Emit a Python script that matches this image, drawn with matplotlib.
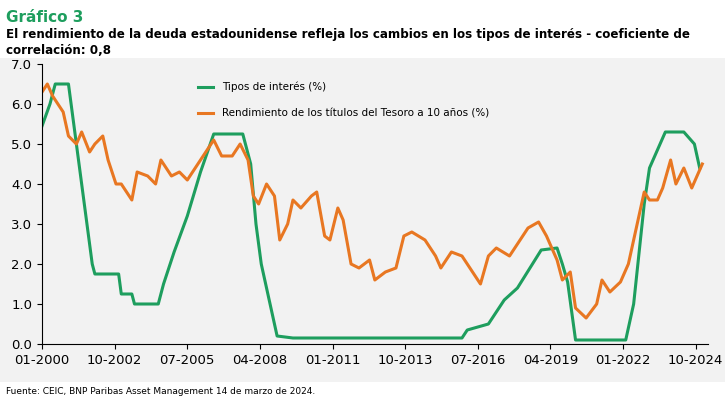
import matplotlib.pyplot as plt
import numpy as np

# Fed funds rate (green), year fraction -> %
rates = np.array([
    [2000.0, 5.45], [2000.3, 6.0], [2000.5, 6.5], [2001.0, 6.5], [2001.2, 5.5], [2001.5, 4.0],
    [2001.9, 2.0], [2002.0, 1.75], [2002.9, 1.75], [2003.0, 1.25], [2003.4, 1.25], [2003.5, 1.0],
    [2004.4, 1.0], [2004.6, 1.5], [2005.0, 2.3], [2005.5, 3.2], [2006.0, 4.3], [2006.5, 5.25],
    [2007.6, 5.25], [2007.9, 4.5], [2008.1, 3.0], [2008.3, 2.0], [2008.9, 0.2], [2009.5, 0.15],
    [2015.9, 0.15], [2016.1, 0.35], [2016.9, 0.5], [2017.5, 1.1], [2018.0, 1.4], [2018.9, 2.35],
    [2019.5, 2.4], [2019.7, 2.0], [2019.9, 1.55], [2020.2, 0.1], [2022.1, 0.1], [2022.4, 1.0],
    [2022.8, 3.5], [2023.0, 4.4], [2023.6, 5.3], [2024.3, 5.3], [2024.7, 5.0], [2024.9, 4.4],
])

# 10-year Treasury yield (orange)
yields = np.array([
    [2000.0, 6.3], [2000.2, 6.5], [2000.4, 6.2], [2000.6, 6.0], [2000.8, 5.8], [2001.0, 5.2],
    [2001.3, 5.0], [2001.5, 5.3], [2001.8, 4.8], [2002.0, 5.0], [2002.3, 5.2], [2002.5, 4.6],
    [2002.8, 4.0], [2003.0, 4.0], [2003.4, 3.6], [2003.6, 4.3], [2004.0, 4.2], [2004.3, 4.0],
    [2004.5, 4.6], [2004.9, 4.2], [2005.2, 4.3], [2005.5, 4.1], [2005.9, 4.5], [2006.2, 4.8],
    [2006.5, 5.1], [2006.8, 4.7], [2007.2, 4.7], [2007.5, 5.0], [2007.8, 4.6], [2008.0, 3.7],
    [2008.2, 3.5], [2008.5, 4.0], [2008.8, 3.7], [2009.0, 2.6], [2009.3, 3.0], [2009.5, 3.6],
    [2009.8, 3.4], [2010.2, 3.7], [2010.4, 3.8], [2010.7, 2.7], [2010.9, 2.6], [2011.2, 3.4],
    [2011.4, 3.1], [2011.7, 2.0], [2012.0, 1.9], [2012.4, 2.1], [2012.6, 1.6], [2013.0, 1.8],
    [2013.4, 1.9], [2013.7, 2.7], [2014.0, 2.8], [2014.5, 2.6], [2014.9, 2.2], [2015.1, 1.9],
    [2015.5, 2.3], [2015.9, 2.2], [2016.3, 1.8], [2016.6, 1.5], [2016.9, 2.2], [2017.2, 2.4],
    [2017.7, 2.2], [2018.0, 2.5], [2018.4, 2.9], [2018.8, 3.05], [2019.1, 2.7], [2019.5, 2.1],
    [2019.7, 1.6], [2020.0, 1.8], [2020.2, 0.9], [2020.6, 0.65], [2021.0, 1.0], [2021.2, 1.6],
    [2021.5, 1.3], [2021.9, 1.55], [2022.2, 2.0], [2022.5, 2.9], [2022.8, 3.8], [2023.0, 3.6],
    [2023.3, 3.6], [2023.5, 3.9], [2023.8, 4.6], [2024.0, 4.0], [2024.3, 4.4], [2024.6, 3.9],
    [2024.8, 4.2], [2025.0, 4.5],
])

fig = plt.figure(figsize=(7.25, 4), dpi=100)
fig.patch.set_facecolor('white')
# grey panel behind the chart
fig.patches.append(plt.Rectangle((0, 0.045), 1, 0.81, transform=fig.transFigure,
                                 facecolor='#f2f2f2', zorder=-1))
ax = fig.add_axes([0.058, 0.14, 0.918, 0.70])
ax.set_facecolor('#f2f2f2')

ax.plot(rates[:, 0], rates[:, 1], color='#1e9e5e', lw=2.2, label='Tipos de interés (%)')
ax.plot(yields[:, 0], yields[:, 1], color='#e87722', lw=2.2,
        label='Rendimiento de los títulos del Tesoro a 10 años (%)')

ax.set_xlim(2000, 2025.2)
ax.set_ylim(0, 7)
ax.set_yticks(np.arange(0, 7.1, 1))
ax.set_yticklabels([f"{v:.1f}" for v in np.arange(0, 7.1, 1)], fontsize=9.5)
ticks = [2000, 2002.75, 2005.5, 2008.25, 2011, 2013.75, 2016.5, 2019.25, 2022, 2024.75]
ax.set_xticks(ticks)
ax.set_xticklabels(['01-2000', '10-2002', '07-2005', '04-2008', '01-2011', '10-2013',
                    '07-2016', '04-2019', '01-2022', '10-2024'], fontsize=9.5)
for s in ['top', 'right']:
    ax.spines[s].set_visible(False)
ax.legend(loc='upper left', bbox_to_anchor=(0.22, 0.97), frameon=False, fontsize=7.5,
          handlelength=1.5, labelspacing=1.6)

fig.text(0.008, 0.975, 'Gráfico 3', fontsize=11, fontweight='bold', color='#1e9e5e', va='top')
fig.text(0.008, 0.93, 'El rendimiento de la deuda estadounidense refleja los cambios en los tipos de interés - coeficiente de\ncorrelación: 0,8',
         fontsize=8.6, fontweight='bold', va='top', linespacing=1.3)
fig.text(0.008, 0.015, 'Fuente: CEIC, BNP Paribas Asset Management 14 de marzo de 2024.', fontsize=6.5)

plt.savefig('out.png')
plt.close()
